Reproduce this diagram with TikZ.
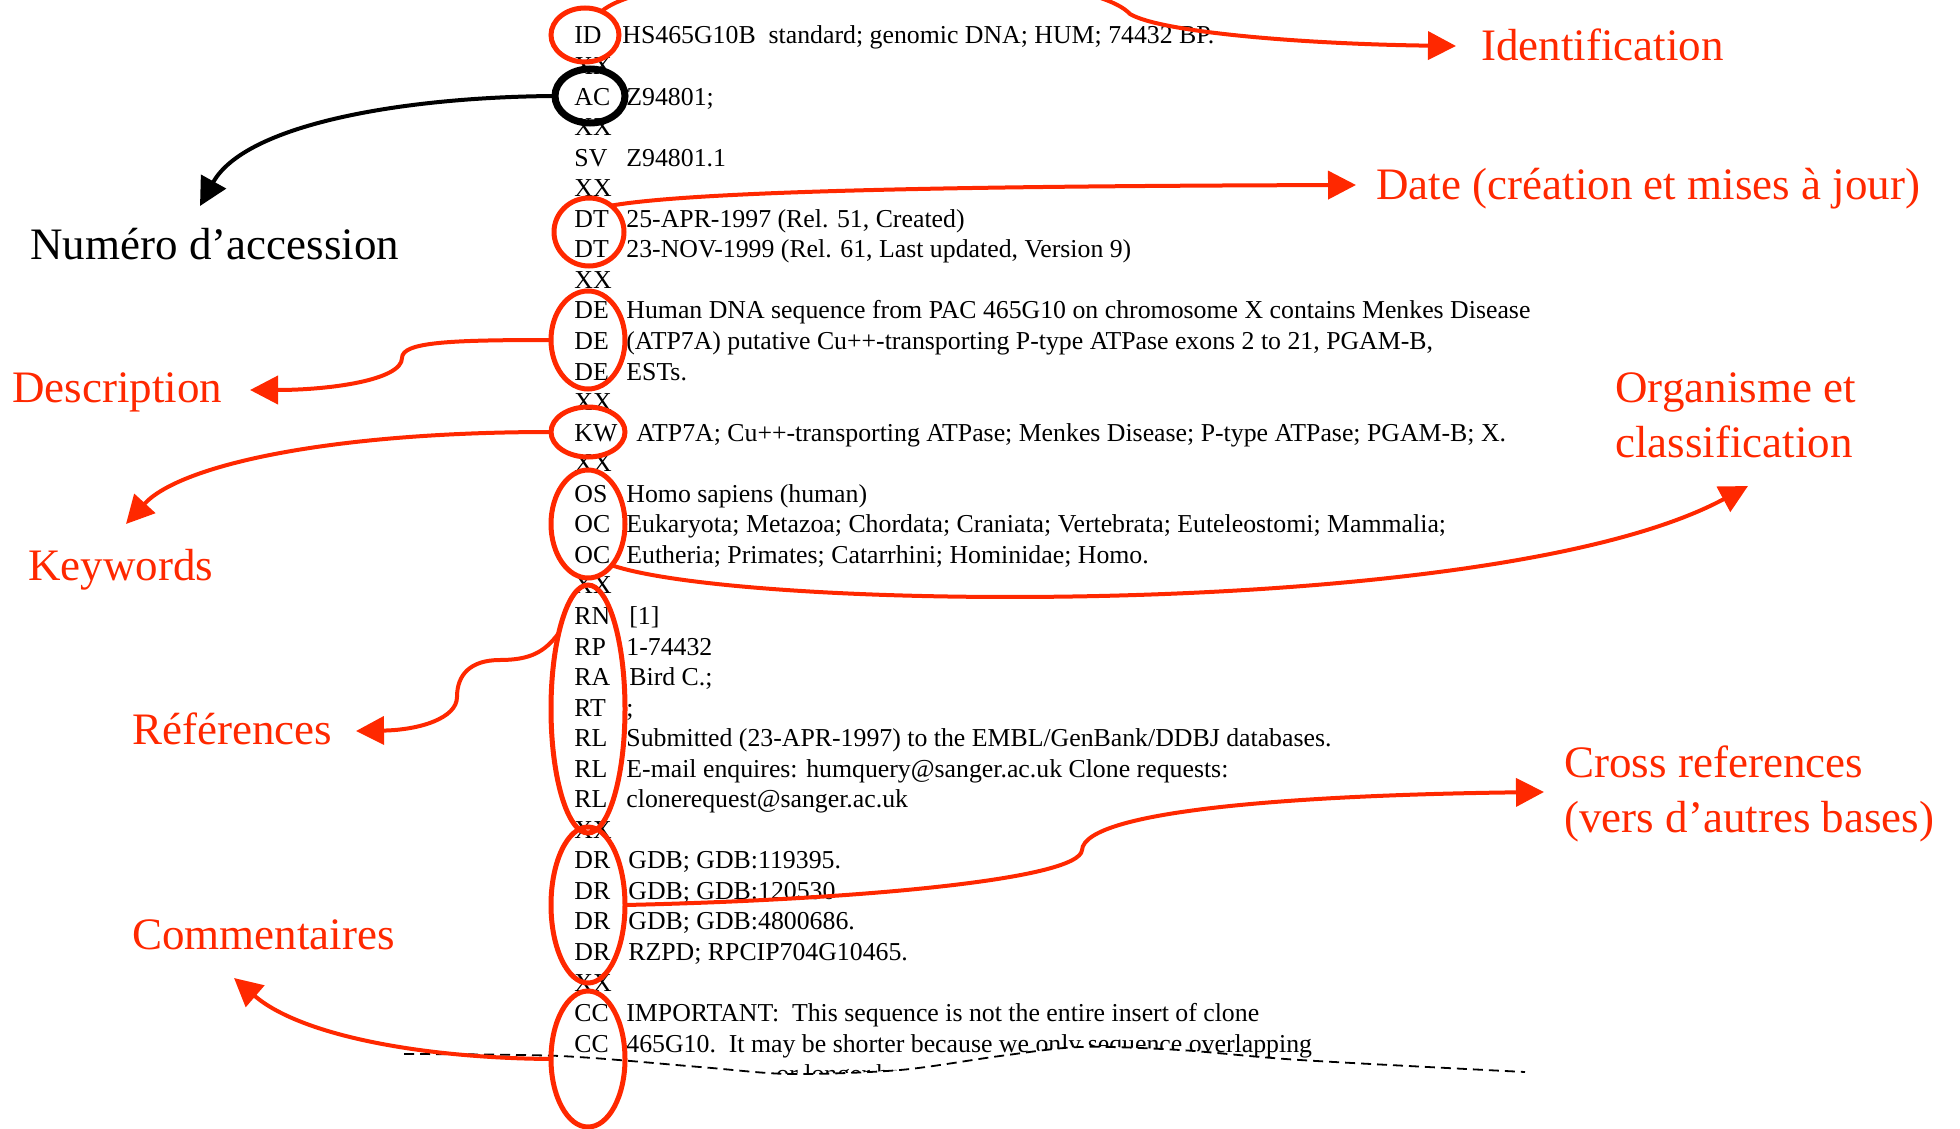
\documentclass[tikz,border=0pt]{standalone}
\usepackage{fontspec}
\setmainfont{Liberation Serif}
\usetikzlibrary{arrows.meta,shapes.geometric}
\definecolor{lab}{RGB}{255,40,0}
\begin{document}
\begin{tikzpicture}[x=0.5pt,y=-0.5pt,
  code/.style={anchor=base west,inner sep=0pt,font=\fontsize{12.9}{15}\selectfont},
  lbl/.style={anchor=base west,inner sep=0pt,text=lab,font=\fontsize{22.5}{27}\selectfont},
  ring/.style={draw=lab,line width=2.5pt,ellipse,inner sep=0pt,outer sep=0pt},
  conn/.style={draw=lab,line width=2pt,-{Triangle[length=14pt,width=14pt]}},
  bconn/.style={draw=black,line width=2pt,-{Triangle[length=14pt,width=14pt]}},
]
\useasboundingbox (0,0) rectangle (1960,1129);
\clip (0,0) rectangle (1960,1129);
\newcommand\emblrow[5]{\node[code] (c#1) at (574,#2) {#3}; \node[code] (t#1) at (#4,#2) {#5};}
\newcommand\xxrow[2]{\node[code] (c#1) at (574,#2) {XX};}
% listing
\emblrow{0}{44}{ID}{622}{HS465G10B\ \ standard; genomic DNA; HUM; 74432 BP.}
\xxrow{1}{74.55}
\emblrow{2}{105.1}{AC}{626}{Z94801;}
\xxrow{3}{135.65}
\emblrow{4}{166.2}{SV}{626}{Z94801.1}
\xxrow{5}{196.75}
\emblrow{6}{227.3}{DT}{626}{25-APR-1997 (Rel. 51, Created)}
\emblrow{7}{257.85}{DT}{626}{23-NOV-1999 (Rel. 61, Last updated, Version 9)}
\xxrow{8}{288.4}
\emblrow{9}{318.95}{DE}{626}{Human DNA sequence from PAC 465G10 on chromosome X contains Menkes Disease}
\emblrow{10}{349.5}{DE}{626}{(ATP7A) putative Cu++-transporting P-type ATPase exons 2 to 21, PGAM-B,}
\emblrow{11}{380.05}{DE}{626}{ESTs.}
\xxrow{12}{410.6}
\emblrow{13}{441.15}{KW}{636}{ATP7A; Cu++-transporting ATPase; Menkes Disease; P-type ATPase; PGAM-B; X.}
\xxrow{14}{471.7}
\emblrow{15}{502.25}{OS}{626}{Homo sapiens (human)}
\emblrow{16}{532.8}{OC}{626}{Eukaryota; Metazoa; Chordata; Craniata; Vertebrata; Euteleostomi; Mammalia;}
\emblrow{17}{563.35}{OC}{626}{Eutheria; Primates; Catarrhini; Hominidae; Homo.}
\xxrow{18}{593.9}
\emblrow{19}{624.45}{RN}{629}{[1]}
\emblrow{20}{655}{RP}{626}{1-74432}
\emblrow{21}{685.55}{RA}{629}{Bird C.;}
\emblrow{22}{716.1}{RT}{626}{;}
\emblrow{23}{746.65}{RL}{626}{Submitted (23-APR-1997) to the EMBL/GenBank/DDBJ databases.}
\emblrow{24}{777.2}{RL}{626}{E-mail enquires: humquery@sanger.ac.uk Clone requests:}
\emblrow{25}{807.75}{RL}{626}{clonerequest@sanger.ac.uk}
\xxrow{26}{838.3}
\emblrow{27}{868.85}{DR}{628}{GDB; GDB:119395.}
\emblrow{28}{899.4}{DR}{628}{GDB; GDB:120530}
\emblrow{29}{929.95}{DR}{628}{GDB; GDB:4800686.}
\emblrow{30}{960.5}{DR}{628}{RZPD; RPCIP704G10465.}
\xxrow{31}{991.05}
\emblrow{32}{1021.6}{CC}{626}{IMPORTANT:\ \ This sequence is not the entire insert of clone}
\emblrow{33}{1052.15}{CC}{626}{465G10.\ \ It may be shorter because we only sequence overlapping}
\node[code] (t34) at (776,1082.7) {or longer be};
% torn edge
\fill[white] plot[smooth] coordinates {(404,1054) (560,1056) (700,1067) (790,1074) (900,1070) (1000,1056) (1080,1047) (1180,1050) (1300,1060) (1525,1072)} -- (1525,1140) -- (404,1140) -- cycle;
\draw[line width=0.9pt,dash pattern=on 5pt off 3pt] plot[smooth] coordinates {(404,1054) (560,1056) (700,1067) (790,1074) (900,1070) (1000,1056) (1080,1047) (1180,1050) (1300,1060) (1525,1072)};
% rings
\node[ring,minimum width=34pt,minimum height=27pt] (eID) at (585,35) {};
\node[draw=black,line width=3.5pt,ellipse,inner sep=0pt,outer sep=0pt,minimum width=35pt,minimum height=27pt] (eAC) at (590,96) {};
\node[ring,minimum width=35pt,minimum height=34pt] (eDT) at (589,232) {};
\node[ring,minimum width=37pt,minimum height=49pt] (eDE) at (588,340) {};
\node[ring,minimum width=37pt,minimum height=25pt] (eKW) at (588,432) {};
\node[ring,minimum width=37pt,minimum height=54pt] (eOS) at (588,524) {};
\node[ring,minimum width=37pt,minimum height=124pt] (eR) at (588,709) {};
\node[ring,minimum width=37pt,minimum height=78pt] (eDR) at (588,905) {};
\node[ring,minimum width=37pt,minimum height=68pt] (eCC) at (588,1059) {};
% labels
\node[lbl] (lID) at (1481,61) {Identification};
\node[lbl] (lDT) at (1376,199) {Date (création et mises à jour)};
\node[lbl,text=black] (lAC) at (30,259) {Numéro d’accession};
\node[lbl] (lDE) at (12,402) {Description};
\node[lbl] (lKW) at (28,580) {Keywords};
\node[lbl] (lOS1) at (1615,402) {Organisme et};
\node[lbl] (lOS2) at (1615,457) {classification};
\node[lbl] (lR) at (132,744) {Références};
\node[lbl] (lCR1) at (1564,777) {Cross references};
\node[lbl] (lCR2) at (1564,832) {(vers d’autres bases)};
\node[lbl] (lCC) at (132,949) {Commentaires};
% arrow tips
\coordinate (pID) at (1456,46);
\coordinate (pDT) at (1356,185);
\coordinate (pAC) at (200,206);
\coordinate (pDE) at (250,390);
\coordinate (pKW) at (126,524);
\coordinate (pOS) at (1748,486);
\coordinate (pR) at (356,731);
\coordinate (pCR) at (1544,792);
\coordinate (pCC) at (234,978);
% connectors
\draw[conn] (eID.55) .. controls (660,-40) and (1080,-40) .. (1130,14) .. controls (1160,32) and (1300,44) .. (pID);
\draw[conn] (eDT.50) .. controls (700,190) and (1000,186) .. (pDT);
\draw[bconn] (eAC.west) .. controls (400,97) and (245,125) .. (pAC);
\draw[conn] (eDE.west) .. controls (450,340) and (402,342) .. (402,358) .. controls (402,380) and (330,390) .. (pDE);
\draw[conn] (eKW.west) .. controls (330,432) and (180,465) .. (pKW);
\draw[conn] (eOS.-60) .. controls (750,612) and (1500,620) .. (pOS);
\draw[conn] (eR.111) .. controls (545,652) and (530,660) .. (500,660) .. controls (470,660) and (457,675) .. (457,697) .. controls (457,718) and (420,730) .. (pR);
\draw[conn] (eDR.east) .. controls (850,900) and (1080,880) .. (1082,850) .. controls (1085,810) and (1300,795) .. (pCR);
\draw[conn] (eCC.west) .. controls (420,1058) and (300,1035) .. (pCC);
\end{tikzpicture}
\end{document}
